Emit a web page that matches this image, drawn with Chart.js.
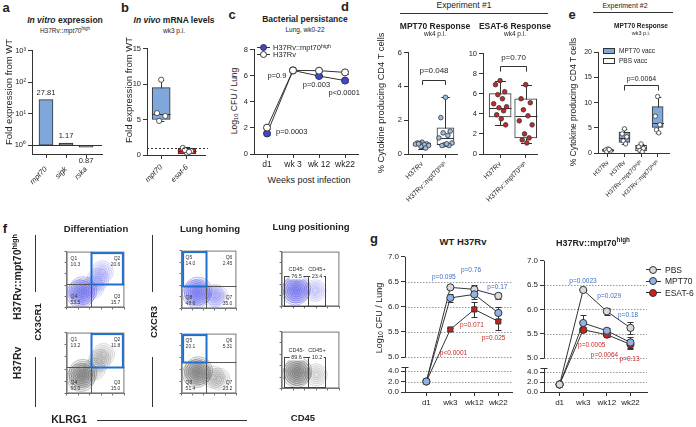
<!DOCTYPE html>
<html>
<head>
<meta charset="utf-8">
<script src="https://cdn.jsdelivr.net/npm/chart.js@4.4.1/dist/chart.umd.min.js"></script>
<style>
  html, body { margin: 0; background: #fff; }
  #fig { position: relative; width: 696px; height: 427px; overflow: hidden; background: #fff;
         font-family: "Liberation Sans", Arial, Helvetica, sans-serif; color: #222; }
  #fig canvas { position: absolute; }
  .t { position: absolute; white-space: nowrap; line-height: 1; }
  .t sup { font-size: 0.7em; vertical-align: 0.5em; line-height: 0; }
  .t sub { font-size: 0.7em; vertical-align: -0.25em; line-height: 0; }
  .ln { position: absolute; background: #333; }
</style>
</head>
<body>
<div id="fig"></div>
<script>
// ---------- data ----------
// a: in vitro fold expression vs WT
const genesA = ['mpt70', 'sigk', 'rska'];
const foldA = [27.81, 1.17, 0.87];

// b: in vivo mRNA, wk3
const genesB = ['mpt70', 'esat-6'];
const ptsB = [[10.6, 5.9, 5.5, 4.8], [0.3, 1.0, 0.55, 0.7, 0.45]];
const loB = [4.8, 0.1], q1B = [5.0, 0.15], medB = [5.8, 0.55], q3B = [9.5, 0.95], hiB = [10.6, 1.1];

// c: bacterial persistence
const weeksC = ['d1', 'wk 3', 'wk 12', 'wk22'];
const cfuHi = [1.57, 6.4, 5.97, 5.62];
const errHi = [0.15, 0.05, 0.1, 0.1];
const cfuWT = [2.02, 6.4, 6.38, 6.25];
const errWT = [0.12, 0.05, 0.1, 0.1];

// d: experiment #1
const groupsD = ['H37Rv', 'H37Rv::mpt70ʰⁱᵍʰ'];
const mptPts = [[0.7, 0.65, 0.6, 0.62, 0.55, 0.58, 0.5, 0.45, 0.35, 0.6], [3.35, 2.15, 1.35, 1.25, 1.1, 0.95, 0.65, 0.55, 0.5, 0.5, 0.6]];
const mptLo = [0.3, 0.5], mptQ1 = [0.48, 0.55], mptMed = [0.58, 0.95], mptQ3 = [0.66, 1.55], mptHi = [0.72, 3.35];
const esatPts = [[7.3, 6.9, 6.2, 5.9, 5.5, 5.0, 4.7, 4.6, 4.3, 3.9, 3.5, 2.9], [6.9, 5.5, 5.1, 4.4, 3.8, 3.3, 2.9, 2.0, 1.6, 1.4, 1.1]];
const esatLo = [2.9, 1.1], esatQ1 = [3.7, 1.6], esatMed = [4.6, 3.8], esatQ3 = [6.0, 5.5], esatHi = [7.3, 6.9];

// e: experiment #2
const groupsE = ['H37Rv', 'H37Rv', 'H37Rv::mpt70ʰⁱᵍʰ', 'H37Rv::mpt70ʰⁱᵍʰ'];
const vaccE = ['PBS vacc', 'MPT70 vacc', 'PBS vacc', 'MPT70 vacc'];
const ptsE = [[0.8, 0.6, 0.4, 0.25, 0.7], [4.8, 3.8, 3.2, 2.4, 1.8], [1.8, 1.2, 0.9, 0.5, 0.2], [11.2, 7.3, 5.6, 4.6, 4.0]];
const loE = [0.2, 1.7, 0.2, 4.0], q1E = [0.3, 2.1, 0.4, 5.1], medE = [0.55, 3.0, 0.9, 6.0], q3E = [0.8, 4.1, 1.5, 9.2], hiE = [0.9, 4.8, 1.8, 11.2];

// f: flow gates (percent per quadrant / gate)
const diffTopPct = ['10.3', '20.6', '53.5', '15.7'];   // Q1 Q2 Q4 Q3
const diffBotPct = ['13.2', '11.8', '60.0', '15.0'];
const homTopPct = ['14.0', '2.45', '48.6', '35.0'];    // Q5 Q6 Q8 Q7
const homBotPct = ['20.1', '5.31', '51.4', '23.2'];
const posTopPct = ['76.5', '23.4'];                    // CD45- CD45+
const posBotPct = ['89.6', '10.2'];
// contour cores (axis units 0-100)
const diffTopCore = [{ x: 24, y: 24 }, { x: 28, y: 30 }], diffTopTail = [{ x: 46, y: 36 }, { x: 54, y: 50 }, { x: 62, y: 64 }];
const diffBotCore = [{ x: 25, y: 26 }, { x: 28, y: 33 }], diffBotTail = [{ x: 48, y: 40 }, { x: 57, y: 54 }, { x: 64, y: 64 }];
const homTopCore = [{ x: 27, y: 25 }, { x: 30, y: 30 }], homTopTail = [{ x: 58, y: 22 }, { x: 64, y: 22 }];
const homBotCore = [{ x: 27, y: 33 }, { x: 31, y: 38 }], homBotTail = [{ x: 58, y: 27 }, { x: 68, y: 24 }];
const posTopCore = [{ x: 24, y: 28 }, { x: 26, y: 32 }], posTopTail = [{ x: 58, y: 29 }];
const posBotCore = [{ x: 26, y: 26 }, { x: 28, y: 30 }], posBotTail = [{ x: 60, y: 24 }];

// g: vaccination CFU
const weeksG = ['d1', 'wk3', 'wk12', 'wk22'];
const gTicks = [0, 2, 4, 5, 5.5, 6, 6.5, 7];
const wtPBS = [2.0, 6.39, 6.35, 6.22], wtPBSerr = [0, 0.03, 0.08, 0.06];
const wtMPT = [2.0, 6.18, 6.25, 5.88], wtMPTerr = [0, 0.08, 0.1, 0.12];
const wtESAT = [2.0, 5.55, 5.95, 5.71], wtESATerr = [0, 0.03, 0.15, 0.17];
const hiPBS = [1.5, 6.4, 5.96, 5.62], hiPBSerr = [0, 0.03, 0.07, 0.12];
const hiMPT = [1.5, 5.72, 5.56, 5.32], hiMPTerr = [0, 0.17, 0.05, 0.12];
const hiESAT = [1.5, 5.58, 5.48, 5.28], hiESATerr = [0, 0.05, 0.05, 0.1];

// ---------- setup ----------
const fig = document.getElementById('fig');
const FONT = '"Liberation Sans", Arial, Helvetica, sans-serif';
const BLUE = '#3a6fc4', RED = '#c62828';
const SUP = ['⁰', '¹', '²', '³'];
const JIT = [0, -0.2, 0.2, -0.1, 0.1, -0.28, 0.28, -0.05, 0.15, -0.15, 0.05, 0.24];

Chart.defaults.font.family = FONT;
Chart.defaults.font.size = 7.5;
Chart.defaults.color = '#222';
Chart.defaults.borderColor = '#333';
Chart.defaults.animation = false;
Chart.defaults.responsive = false;
Chart.defaults.maintainAspectRatio = false;
Chart.defaults.devicePixelRatio = 1;
Chart.defaults.events = [];
Chart.defaults.plugins.legend.display = false;
Chart.defaults.plugins.tooltip.enabled = false;

// y axis with a break between 4 and 5 (panel g)
class BrokenScale extends Chart.LinearScale {
  static id = 'broken';
  static defaults = Chart.LinearScale.defaults;
  getPixelForValue(v) {
    const b = this.options.brk, bot = this.bottom, top = this.top;
    const upH = bot - top - b.lowPx - b.gapPx;
    if (v <= b.lowMax) return bot - (v - this.min) / (b.lowMax - this.min) * b.lowPx;
    if (v >= b.highMin) return bot - b.lowPx - b.gapPx - (v - b.highMin) / (this.max - b.highMin) * upH;
    return bot - b.lowPx - (v - b.lowMax) / (b.highMin - b.lowMax) * b.gapPx;
  }
}
Chart.register(BrokenScale);

function canvasAt(area, pad) {
  const c = document.createElement('canvas');
  c.width = area.r - area.l + pad.l + pad.r;
  c.height = area.b - area.t + pad.t + pad.b;
  c.style.left = (area.l - pad.l) + 'px';
  c.style.top = (area.t - pad.t) + 'px';
  fig.appendChild(c);
  return c;
}

function txt(html, x, y, css, rot) {
  const d = document.createElement('div');
  d.className = 't';
  d.innerHTML = html;
  d.style.cssText += css || '';
  d.style.left = x + 'px';
  d.style.top = y + 'px';
  d.style.transform = 'translate(-50%,-50%)' + (rot ? ' rotate(-90deg)' : '');
  fig.appendChild(d);
  return d;
}
function hline(x0, x1, y, c) {
  const d = document.createElement('div');
  d.className = 'ln';
  d.style.cssText = `left:${x0}px;top:${y}px;width:${x1 - x0}px;height:1px;background:${c || '#333'}`;
  fig.appendChild(d);
}
function vline(x, y0, y1) {
  const d = document.createElement('div');
  d.className = 'ln';
  d.style.cssText = `left:${x}px;top:${y0}px;width:1px;height:${y1 - y0}px`;
  fig.appendChild(d);
}

function idxAxis(labels, min, max, padB, tickOpts) {
  return {
    type: 'linear', min, max, offset: false,
    afterBuildTicks: s => { s.ticks = labels.map((_, i) => ({ value: i })); },
    afterFit: s => { s.height = padB; },
    grid: { drawOnChartArea: false, offset: false, tickLength: 4, color: '#333' },
    border: { color: '#333' },
    ticks: Object.assign({ autoSkip: false, maxRotation: 0, minRotation: 0, padding: 2, callback: v => labels[v] }, tickOpts)
  };
}
function valAxis(min, max, step, padL, extra) {
  return Object.assign({
    type: 'linear', min, max,
    afterFit: s => { s.width = padL; },
    ticks: { stepSize: step, padding: 2 },
    grid: { drawOnChartArea: false, tickLength: 4, color: '#333' },
    border: { color: '#333' }
  }, extra);
}
function layoutPad(pad) {
  return { padding: { top: pad.t, right: pad.r, left: 0, bottom: 0 } };
}

// ---------- plugins ----------
function refLine(v, dash, ext) {
  return { id: 'refLine', afterDatasetsDraw(chart) {
    const { ctx, chartArea: a, scales: { y } } = chart;
    const py = Math.round(y.getPixelForValue(v)) + 0.5;
    ctx.save(); ctx.strokeStyle = '#333'; ctx.lineWidth = 1; ctx.setLineDash(dash);
    ctx.beginPath(); ctx.moveTo(a.left, py); ctx.lineTo(a.right + (ext || 0), py); ctx.stroke();
    ctx.restore();
  }};
}
function barLabels(vals) {
  return { id: 'barLabels', afterDatasetsDraw(chart) {
    const { ctx, scales: { x, y } } = chart;
    ctx.save(); ctx.font = '7.5px ' + FONT; ctx.fillStyle = '#222';
    ctx.textAlign = 'center'; ctx.textBaseline = 'middle';
    vals.forEach((v, i) => {
      const py = v >= 1 ? y.getPixelForValue(v) - 7 : y.getPixelForValue(v) + 14;
      ctx.fillText(v.toFixed(2), x.getPixelForValue(i), py);
    });
    ctx.restore();
  }};
}
function notes(items) {
  return { id: 'notes', afterDatasetsDraw(chart) {
    const { ctx, scales: { x, y } } = chart;
    ctx.save(); ctx.textAlign = 'center'; ctx.textBaseline = 'middle';
    items.forEach(n => {
      ctx.fillStyle = n.color || '#222';
      ctx.font = (n.size || 7.5) + 'px ' + FONT;
      ctx.fillText(n.text, x.getPixelForValue(n.x), y.getPixelForValue(n.y));
    });
    ctx.restore();
  }};
}
function errBars() {
  return { id: 'errBars', beforeDatasetsDraw(chart) {
    const { ctx, scales: { x, y } } = chart;
    ctx.save(); ctx.strokeStyle = '#333'; ctx.lineWidth = 1;
    chart.data.datasets.forEach(ds => {
      if (!ds.errs) return;
      ds.data.forEach((p, i) => {
        const e = ds.errs[i];
        if (!e) return;
        const px = Math.round(x.getPixelForValue(p.x)) + 0.5;
        const y0 = Math.round(y.getPixelForValue(p.y - e)) + 0.5, y1 = Math.round(y.getPixelForValue(p.y + e)) + 0.5;
        ctx.beginPath();
        ctx.moveTo(px, y0); ctx.lineTo(px, y1);
        ctx.moveTo(px - 3, y0); ctx.lineTo(px + 3, y0);
        ctx.moveTo(px - 3, y1); ctx.lineTo(px + 3, y1);
        ctx.stroke();
      });
    });
    ctx.restore();
  }};
}
function bracket(b) {
  return { id: 'bracket', afterDatasetsDraw(chart) {
    const { ctx, scales: { x, y } } = chart;
    const x0 = Math.round(x.getPixelForValue(b.from)) + 0.5, x1 = Math.round(x.getPixelForValue(b.to)) + 0.5;
    const yt = Math.round(y.getPixelForValue(b.top)) + 0.5, yb = y.getPixelForValue(b.foot);
    ctx.save(); ctx.strokeStyle = '#333'; ctx.lineWidth = 1;
    ctx.beginPath(); ctx.moveTo(x0, yb); ctx.lineTo(x0, yt); ctx.lineTo(x1, yt); ctx.lineTo(x1, yb); ctx.stroke();
    ctx.fillStyle = '#222'; ctx.font = b.size + 'px ' + FONT;
    ctx.textAlign = 'center'; ctx.textBaseline = 'middle';
    ctx.fillText(b.text, (x0 + x1) / 2, y.getPixelForValue(b.ty));
    ctx.restore();
  }};
}

// box plot: floating bar for the box, scatter for points, plugin for whiskers + median
function boxChart(o) {
  const pts = [], ptCol = [];
  o.pts.forEach((arr, i) => arr.forEach((v, j) => {
    pts.push({ x: i + JIT[j % JIT.length] * o.spread, y: v });
    ptCol.push(o.ptFill[i]);
  }));
  const whisk = { id: 'whisk', afterDatasetDraw(chart, args) {
    if (args.index !== 1) return;
    const { ctx, scales: { x, y } } = chart;
    ctx.save(); ctx.strokeStyle = '#333'; ctx.lineWidth = 1;
    o.labels.forEach((_, i) => {
      const cx = Math.round(x.getPixelForValue(i)) + 0.5, hw = o.boxW / 2, cw = o.boxW * o.cap / 2;
      const r = v => Math.round(y.getPixelForValue(v)) + 0.5;
      const yl = r(o.lo[i]), y1 = r(o.q1[i]), ym = r(o.med[i]), y3 = r(o.q3[i]), yh = r(o.hi[i]);
      ctx.beginPath();
      ctx.moveTo(cx, yl); ctx.lineTo(cx, y1);
      ctx.moveTo(cx, y3); ctx.lineTo(cx, yh);
      ctx.moveTo(cx - cw, yl); ctx.lineTo(cx + cw, yl);
      ctx.moveTo(cx - cw, yh); ctx.lineTo(cx + cw, yh);
      ctx.moveTo(cx - hw, ym); ctx.lineTo(cx + hw, ym);
      ctx.stroke();
    });
    ctx.restore();
  }};
  const plugins = [whisk].concat(o.extra || []);
  return new Chart(canvasAt(o.area, o.pad), {
    type: 'bar',
    data: { datasets: [
      { type: 'scatter', data: pts, pointRadius: o.ptR, pointBackgroundColor: ptCol,
        pointBorderColor: '#333', pointBorderWidth: 0.8 },
      { type: 'bar', data: o.labels.map((_, i) => ({ x: i, y: [o.q1[i], o.q3[i]] })),
        backgroundColor: o.boxFill, borderColor: '#333', borderWidth: 1, borderSkipped: false, barThickness: o.boxW }
    ]},
    options: {
      layout: layoutPad(o.pad),
      scales: {
        x: idxAxis(o.labels, o.xmin, o.xmax, o.pad.b, o.xticks),
        y: valAxis(o.ymin, o.ymax, o.ystep, o.pad.l, { ticks: { stepSize: o.ystep, padding: 2, font: { size: o.yfont || 7.5 } } })
      }
    },
    plugins
  });
}

// ---------- a ----------
{
  const area = { l: 32, t: 48, r: 102, b: 154 }, pad = { l: 26, t: 4, r: 4, b: 32 };
  new Chart(canvasAt(area, pad), {
    type: 'bar',
    data: { datasets: [{
      data: genesA.map((g, i) => ({ x: i, y: [1, foldA[i]] })),
      backgroundColor: ['#7fa7da', '#6b6b6b', '#6b6b6b'],
      borderColor: '#333', borderWidth: 1, borderSkipped: false, barThickness: 14
    }]},
    options: {
      layout: layoutPad(pad),
      scales: {
        x: idxAxis(genesA, -0.7, 2.8, pad.b, { minRotation: 45, maxRotation: 45, padding: 7, font: { size: 7.5, style: 'italic' } }),
        y: { type: 'logarithmic', min: 0.53, max: 1000,
             afterBuildTicks: s => { s.ticks = [1, 10, 100, 1000].map(v => ({ value: v })); },
             afterFit: s => { s.width = pad.l; },
             ticks: { padding: 2, callback: v => '10' + SUP[Math.round(Math.log10(v))] },
             grid: { drawOnChartArea: false, tickLength: 4, color: '#333' }, border: { color: '#333' } }
      }
    },
    plugins: [refLine(1, []), barLabels(foldA)]
  });
}

// ---------- b ----------
boxChart({
  area: { l: 147, t: 46, r: 205, b: 155 }, pad: { l: 16, t: 4, r: 6, b: 30 },
  labels: genesB, xmin: -0.55, xmax: 1.7, xticks: { minRotation: 45, maxRotation: 45, padding: 4, font: { size: 7.5, style: 'italic' } },
  ymin: 0, ymax: 15, ystep: 5,
  pts: ptsB, lo: loB, q1: q1B, med: medB, q3: q3B, hi: hiB,
  boxFill: ['#7fa7da', '#d42020'], ptFill: ['#fff', '#fff'], boxW: 18, cap: 0.3, ptR: 2.6, spread: 0.8,
  extra: [refLine(1, [2, 2], 3)]
});

// ---------- c ----------
{
  const area = { l: 254, t: 47, r: 358, b: 154 }, pad = { l: 14, t: 4, r: 6, b: 18 };
  new Chart(canvasAt(area, pad), {
    type: 'line',
    data: { datasets: [
      { data: cfuWT.map((v, i) => ({ x: i, y: v })), errs: errWT, borderColor: '#333', borderWidth: 1,
        pointRadius: 3.5, pointBackgroundColor: '#fff', pointBorderColor: '#333', pointBorderWidth: 1 },
      { data: cfuHi.map((v, i) => ({ x: i, y: v })), errs: errHi, borderColor: '#333', borderWidth: 1,
        pointRadius: 3.5, pointBackgroundColor: '#3e46d8', pointBorderColor: '#333', pointBorderWidth: 1 }
    ]},
    options: {
      layout: layoutPad(pad),
      scales: {
        x: idxAxis(weeksC, -0.5, 3.5, pad.b, { font: { size: 8.5 } }),
        y: valAxis(0, 8, 2, pad.l)
      }
    },
    plugins: [errBars(), notes([
      { text: 'p=0.9', x: 0.38, y: 5.98, size: 7.5 },
      { text: 'p=0.003', x: 1.9, y: 5.3, size: 7.5 },
      { text: 'p<0.0001', x: 2.97, y: 4.64, size: 7.5 },
      { text: 'p=0.0003', x: 0.95, y: 1.72, size: 7.5 }
    ])]
  });
}

// ---------- d ----------
boxChart({
  area: { l: 408, t: 50, r: 460, b: 154 }, pad: { l: 12, t: 4, r: 2, b: 58 },
  labels: groupsD, xmin: -0.6, xmax: 1.5, xticks: { minRotation: 45, maxRotation: 45, font: { size: 7 } },
  ymin: 0, ymax: 6, ystep: 2,
  pts: mptPts, lo: mptLo, q1: mptQ1, med: mptMed, q3: mptQ3, hi: mptHi,
  boxFill: ['#fff', '#fff'], ptFill: ['#9dbde6', '#9dbde6'], boxW: 17, cap: 0.5, ptR: 2.3, spread: 1,
  extra: [bracket({ from: 0, to: 1, top: 4.38, foot: 4.08, ty: 4.9, text: 'p=0.048', size: 8 })]
});
boxChart({
  area: { l: 483, t: 51, r: 540, b: 154 }, pad: { l: 14, t: 4, r: 2, b: 58 },
  labels: groupsD, xmin: -0.67, xmax: 1.45, xticks: { minRotation: 45, maxRotation: 45, font: { size: 7 } },
  ymin: 0, ymax: 10, ystep: 2,
  pts: esatPts, lo: esatLo, q1: esatQ1, med: esatMed, q3: esatQ3, hi: esatHi,
  boxFill: ['#fff', '#fff'], ptFill: [RED, RED], boxW: 22, cap: 0.5, ptR: 2.3, spread: 0.9,
  extra: [bracket({ from: 0, to: 1, top: 8.74, foot: 8.2, ty: 9.6, text: 'p=0.70', size: 8 })]
});

// ---------- e ----------
boxChart({
  area: { l: 598, t: 50, r: 670, b: 153 }, pad: { l: 14, t: 4, r: 4, b: 58 },
  labels: groupsE, xmin: -0.6, xmax: 3.7, xticks: { minRotation: 45, maxRotation: 45, font: { size: 6.3 } },
  ymin: 0, ymax: 20, ystep: 5, yfont: 7,
  pts: ptsE, lo: loE, q1: q1E, med: medE, q3: q3E, hi: hiE,
  boxFill: vaccE.map(v => v.startsWith('MPT70') ? '#7fa7da' : '#fff'), ptFill: ['#fff', '#fff', '#fff', '#fff'],
  boxW: 11, cap: 0.5, ptR: 2.2, spread: 0.7,
  extra: [bracket({ from: 1, to: 3, top: 13.4, foot: 12.4, ty: 14.7, text: 'p=0.0064', size: 7 })]
});

// ---------- f (flow plots) ----------
function quadDeco(gx, gy, names, vals, hi) {
  return { id: 'quad', afterDatasetsDraw(chart) {
    const { ctx, chartArea: a, scales: { x, y } } = chart;
    const px = Math.round(x.getPixelForValue(gx)) + 0.5, py = Math.round(y.getPixelForValue(gy)) + 0.5;
    ctx.save();
    ctx.strokeStyle = '#777'; ctx.lineWidth = 1;
    ctx.strokeRect(a.left + 0.5, a.top + 0.5, a.width - 1, a.height - 1);
    ctx.strokeStyle = '#555';
    ctx.beginPath(); ctx.moveTo(px, a.top); ctx.lineTo(px, a.bottom); ctx.moveTo(a.left, py); ctx.lineTo(a.right, py); ctx.stroke();
    ctx.strokeStyle = '#1f6fd1'; ctx.lineWidth = 2;
    if (hi === 'tr') ctx.strokeRect(px, a.top + 1.5, a.right - px - 1.5, py - a.top - 1.5);
    else ctx.strokeRect(a.left + 1.5, a.top + 1.5, px - a.left - 1.5, py - a.top - 1.5);
    ctx.fillStyle = '#333'; ctx.font = '5px ' + FONT; ctx.textBaseline = 'middle';
    const L = a.left + 4, R = a.right - 4, T = a.top + 7, B = a.bottom - 11;
    ctx.textAlign = 'left';
    ctx.fillText(names[0], L, T); ctx.fillText(vals[0], L, T + 6);
    ctx.fillText(names[2], L, B); ctx.fillText(vals[2], L, B + 6);
    ctx.textAlign = 'right';
    ctx.fillText(names[1], R, T); ctx.fillText(vals[1], R, T + 6);
    ctx.fillText(names[3], R, B); ctx.fillText(vals[3], R, B + 6);
    ctx.restore();
  }};
}
function gateDeco(gates, vals) {
  return { id: 'gate', afterDatasetsDraw(chart) {
    const { ctx, chartArea: a, scales: { x, y } } = chart;
    ctx.save();
    ctx.strokeStyle = '#777'; ctx.lineWidth = 1;
    ctx.strokeRect(a.left + 0.5, a.top + 0.5, a.width - 1, a.height - 1);
    ctx.strokeStyle = '#444';
    ctx.font = '5.5px ' + FONT; ctx.textAlign = 'center'; ctx.textBaseline = 'middle';
    gates.forEach((g, i) => {
      const x0 = Math.round(x.getPixelForValue(g.x0)) + 0.5, x1 = Math.round(x.getPixelForValue(g.x1)) + 0.5;
      const y0 = Math.round(y.getPixelForValue(g.y0)) + 0.5, y1 = Math.round(y.getPixelForValue(g.y1)) + 0.5;
      ctx.strokeRect(x0, y1, x1 - x0, y0 - y1);
      const mx = (x0 + x1) / 2, w = ctx.measureText(vals[i]).width + 3;
      ctx.fillStyle = '#fff'; ctx.fillRect(mx - w / 2, y1 - 3, w, 6);
      ctx.fillStyle = '#333';
      ctx.fillText(vals[i], mx, y1);
      ctx.fillText(g.name, mx, y1 - 7);
    });
    ctx.restore();
  }};
}
const BLUE_C = { line: 'rgba(80,80,228,0.6)', fill: 'rgba(110,110,240,0.10)', line2: 'rgba(100,100,232,0.45)', fill2: 'rgba(120,120,240,0.07)' };
const GRAY_C = { line: 'rgba(70,70,70,0.55)', fill: 'rgba(110,110,110,0.09)', line2: 'rgba(80,80,80,0.4)', fill2: 'rgba(120,120,120,0.05)' };
function flowChart(area, pad, core, tail, col, deco) {
  const ds = [];
  [14, 12, 10, 8, 6, 4, 2].forEach(r => ds.push({ data: core, pointRadius: r, borderColor: col.line, backgroundColor: col.fill, borderWidth: 0.6 }));
  [11, 9, 7, 5, 3].forEach(r => ds.push({ data: tail, pointRadius: r, borderColor: col.line2, backgroundColor: col.fill2, borderWidth: 0.5 }));
  new Chart(canvasAt(area, pad), {
    type: 'scatter',
    data: { datasets: ds },
    options: {
      layout: layoutPad(pad),
      scales: {
        x: { min: 0, max: 100, afterFit: s => { s.height = pad.b; }, ticks: { display: false, stepSize: 20 },
             grid: { drawOnChartArea: false, tickLength: 2, color: '#666' }, border: { color: '#777' } },
        y: { min: 0, max: 100, afterFit: s => { s.width = pad.l; }, ticks: { display: false, stepSize: 20 },
             grid: { drawOnChartArea: false, tickLength: 2, color: '#666' }, border: { color: '#777' } }
      }
    },
    plugins: [deco]
  });
}
const padF = { l: 3, t: 1, r: 1, b: 3 };
flowChart({ l: 55, t: 238, r: 138, b: 319 }, padF, diffTopCore, diffTopTail, BLUE_C, quadDeco(42, 42, ['Q1', 'Q2', 'Q4', 'Q3'], diffTopPct, 'tr'));
flowChart({ l: 55, t: 319, r: 138, b: 405 }, padF, diffBotCore, diffBotTail, GRAY_C, quadDeco(42, 44, ['Q1', 'Q2', 'Q4', 'Q3'], diffBotPct, 'tr'));
flowChart({ l: 170, t: 237, r: 250, b: 320 }, padF, homTopCore, homTopTail, BLUE_C, quadDeco(44, 39, ['Q5', 'Q6', 'Q8', 'Q7'], homTopPct, 'tl'));
flowChart({ l: 170, t: 320, r: 250, b: 405 }, padF, homBotCore, homBotTail, GRAY_C, quadDeco(44, 53, ['Q5', 'Q6', 'Q8', 'Q7'], homBotPct, 'tl'));
flowChart({ l: 270, t: 238, r: 353, b: 318 }, padF, posTopCore, posTopTail, BLUE_C,
  gateDeco([{ x0: 4, x1: 45, y0: 1, y1: 56, name: 'CD45-' }, { x0: 45, x1: 75, y0: 1, y1: 56, name: 'CD45+' }], posTopPct));
flowChart({ l: 270, t: 318, r: 353, b: 400 }, padF, posBotCore, posBotTail, GRAY_C,
  gateDeco([{ x0: 4, x1: 45, y0: 2, y1: 55, name: 'CD45-' }, { x0: 45, x1: 75, y0: 2, y1: 55, name: 'CD45+' }], posBotPct));

// ---------- g ----------
function brokenAxis(gridVals) {
  return { id: 'brokenAxis', beforeDatasetsDraw(chart) {
    const { ctx, chartArea: a, scales: { y } } = chart;
    const b = y.options.brk;
    ctx.save();
    ctx.strokeStyle = '#999'; ctx.lineWidth = 1; ctx.setLineDash([1.5, 1.5]);
    gridVals.forEach(v => {
      const py = Math.round(y.getPixelForValue(v)) + 0.5;
      ctx.beginPath(); ctx.moveTo(a.left, py); ctx.lineTo(a.right, py); ctx.stroke();
    });
    ctx.setLineDash([]); ctx.strokeStyle = '#333';
    const xl = Math.round(a.left) + 0.5;
    const yHi = Math.round(y.getPixelForValue(b.highMin)) + 0.5, yLo = Math.round(y.getPixelForValue(b.lowMax)) - 3.5;
    ctx.beginPath();
    ctx.moveTo(xl, a.top); ctx.lineTo(xl, yHi);
    ctx.moveTo(xl, yLo); ctx.lineTo(xl, a.bottom);
    ctx.moveTo(xl - 4, yLo); ctx.lineTo(xl + 3, yLo);
    ctx.stroke();
    ctx.restore();
  }};
}
function gChart(area, pad, xmin, xmax, brk, sets, pnotes) {
  new Chart(canvasAt(area, pad), {
    type: 'line',
    data: { datasets: sets.map(s => ({
      data: s.vals.map((v, i) => ({ x: i, y: v })), errs: s.errs,
      borderColor: '#333', borderWidth: 1, pointRadius: 3.6, pointStyle: s.style || 'circle',
      pointBackgroundColor: s.fill, pointBorderColor: '#333', pointBorderWidth: 1
    })) },
    options: {
      layout: layoutPad(pad),
      scales: {
        x: idxAxis(weeksG, xmin, xmax, pad.b, { font: { size: 8 } }),
        y: { type: 'broken', min: 0, max: 7, brk,
             afterBuildTicks: s => { s.ticks = gTicks.map(v => ({ value: v })); },
             afterFit: s => { s.width = pad.l; },
             ticks: { padding: 2, font: { size: 8 }, callback: v => v.toFixed(1) },
             grid: { drawOnChartArea: false, tickLength: 4, color: '#333' },
             border: { display: false } }
      }
    },
    plugins: [brokenAxis([2, 4, 5, 5.5, 6, 6.5]), errBars(), notes(pnotes)]
  });
}
gChart({ l: 405, t: 254, r: 515, b: 392 }, { l: 18, t: 4, r: 2, b: 18 }, -0.89, 3.57,
  { lowMax: 4, highMin: 5, lowPx: 21, gapPx: 14 },
  [{ vals: wtMPT, errs: wtMPTerr, fill: '#8fb4e3' },
   { vals: wtPBS, errs: wtPBSerr, fill: '#d9d9d9' },
   { vals: wtESAT, errs: wtESATerr, fill: '#d01f1f', style: 'rect' }],
  [{ text: 'p=0.095', x: 0.73, y: 6.59, color: BLUE, size: 6.5 },
   { text: 'p=0.76', x: 1.86, y: 6.73, color: BLUE, size: 6.5 },
   { text: 'p=0.17', x: 2.96, y: 6.4, color: BLUE, size: 6.5 },
   { text: 'p=0.071', x: 1.9, y: 5.64, color: RED, size: 6.5 },
   { text: 'p=0.025', x: 2.8, y: 5.37, color: RED, size: 6.5 },
   { text: 'p<0.0001', x: 1.13, y: 5.08, color: RED, size: 6.5 }]);
gChart({ l: 544, t: 258, r: 650, b: 392 }, { l: 18, t: 4, r: 2, b: 18 }, -0.66, 3.7,
  { lowMax: 4, highMin: 5, lowPx: 20, gapPx: 14 },
  [{ vals: hiPBS, errs: hiPBSerr, fill: '#d9d9d9' },
   { vals: hiMPT, errs: hiMPTerr, fill: '#8fb4e3' },
   { vals: hiESAT, errs: hiESATerr, fill: '#d01f1f' }],
  [{ text: 'p=0.0023', x: 0.99, y: 6.58, color: BLUE, size: 6.5 },
   { text: 'p=0.029', x: 2.1, y: 6.28, color: BLUE, size: 6.5 },
   { text: 'p=0.18', x: 2.9, y: 5.88, color: BLUE, size: 6.5 },
   { text: 'p=0.0005', x: 1.36, y: 5.26, color: RED, size: 6.5 },
   { text: 'p=0.0064', x: 1.9, y: 5.06, color: RED, size: 6.5 },
   { text: 'p=0.13', x: 2.96, y: 4.9, color: RED, size: 6.5 }]);

// ---------- text layer ----------
const B = 'font-weight:bold;';
[['a', 6, 7], ['b', 125, 7], ['c', 232, 14], ['d', 345, 6], ['e', 572, 14], ['f', 5, 228], ['g', 374, 238]]
  .forEach(([l, x, y]) => txt(l, x, y, B + 'font-size:13px'));

txt('<i>In vitro</i> expression', 65, 20, B + 'font-size:8.5px');
txt('H37Rv::<i>mpt70</i><sup>high</sup>', 65, 31, 'font-size:6.5px');
txt('Fold expression from WT', 9, 92, 'font-size:9.5px', true);

txt('<i>In vivo</i> mRNA levels', 174, 20, B + 'font-size:8.5px');
txt('wk3 p.i.', 174, 31, 'font-size:6.5px');
txt('Fold expression from WT', 129, 90, 'font-size:9.5px', true);

txt('Bacterial persistance', 305, 19, B + 'font-size:8.5px');
txt('Lung, wk0-22', 305, 30, 'font-size:6.5px');
txt('Log<sub>10</sub> CFU / Lung', 234, 101, 'font-size:8.5px', true);
txt('Weeks post infection', 309, 180, 'font-size:9px');
// c legend
[['H37Rv::mpt70<sup>high</sup>', 47, '#3e46d8'], ['H37Rv', 54, '#fff']].forEach(([h, y, f]) => {
  hline(257, 270, y, '#333');
  const c = document.createElement('div');
  c.style.cssText = `position:absolute;left:${260}px;top:${y - 3}px;width:5px;height:5px;border:1px solid #333;border-radius:50%;background:${f}`;
  fig.appendChild(c);
  const d = txt(h, 273, y + 0.5, 'font-size:7.5px');
  d.style.transform = 'translate(0,-50%)';
});

txt('Experiment #1', 464, 5, 'font-size:8.5px');
hline(400, 548, 13);
txt('MPT70 Response', 435, 26, B + 'font-size:8.5px');
txt('wk4 p.i.', 435, 34, 'font-size:6.5px');
txt('ESAT-6 Response', 515, 26, B + 'font-size:8.5px');
txt('wk4 p.i.', 515, 34, 'font-size:6.5px');
txt('% Cytokine producing CD4 T cells', 382, 103, 'font-size:9.3px', true);

txt('Experiment #2', 625, 5, 'font-size:7px');
hline(593, 673, 12);
txt('MPT70 Response', 641, 26, B + 'font-size:6.5px');
txt('wk3 p.i.', 641, 34, 'font-size:5.5px');
txt('% Cytokine producing CD4 T cells', 573, 102, 'font-size:8.5px', true);
// e legend
[['MPT70 vacc', 50.5, '#7fa7da'], ['PBS vacc', 60.5, '#fff']].forEach(([h, y, f]) => {
  const r = document.createElement('div');
  r.style.cssText = `position:absolute;left:603px;top:${y - 3}px;width:10px;height:4px;border:1px solid #333;background:${f}`;
  fig.appendChild(r);
  const d = txt(h, 619, y, 'font-size:6.5px');
  d.style.transform = 'translate(0,-50%)';
});

// f labels
txt('Differentiation', 96, 229, B + 'font-size:9.5px');
txt('Lung homing', 210, 229, B + 'font-size:9.5px');
txt('Lung positioning', 311, 227, B + 'font-size:9.5px');
txt('H37Rv::mpt70<sup>high</sup>', 17, 277, B + 'font-size:10.5px', true);
txt('H37Rv', 17, 363, B + 'font-size:10.5px', true);
txt('CX3CR1', 38, 322, B + 'font-size:9.5px', true);
txt('CXCR3', 154, 322, B + 'font-size:9.5px', true);
vline(35, 235, 292); vline(35, 357, 407);
vline(152, 235, 292); vline(152, 357, 407);
txt('KLRG1', 69, 419, B + 'font-size:10.5px');
hline(97, 247, 420);
txt('CD45', 303, 418, B + 'font-size:9.5px');

// g labels
txt('WT H37Rv', 463, 242, B + 'font-size:9.5px');
txt('H37Rv::mpt70<sup>high</sup>', 593, 243, B + 'font-size:9px');
txt('Log<sub>10</sub> CFU / Lung', 379, 318, 'font-size:9px', true);
[['PBS', 269, '#d9d9d9'], ['MPT70', 280.5, '#8fb4e3'], ['ESAT-6', 292, '#d01f1f']].forEach(([h, y, f]) => {
  hline(646, 661, y, '#333');
  const c = document.createElement('div');
  c.style.cssText = `position:absolute;left:649px;top:${y - 3.5}px;width:6px;height:6px;border:1px solid #333;border-radius:50%;background:${f}`;
  fig.appendChild(c);
  const d = txt(h, 665, y + 0.5, 'font-size:8.5px');
  d.style.transform = 'translate(0,-50%)';
});
</script>
</body>
</html>
